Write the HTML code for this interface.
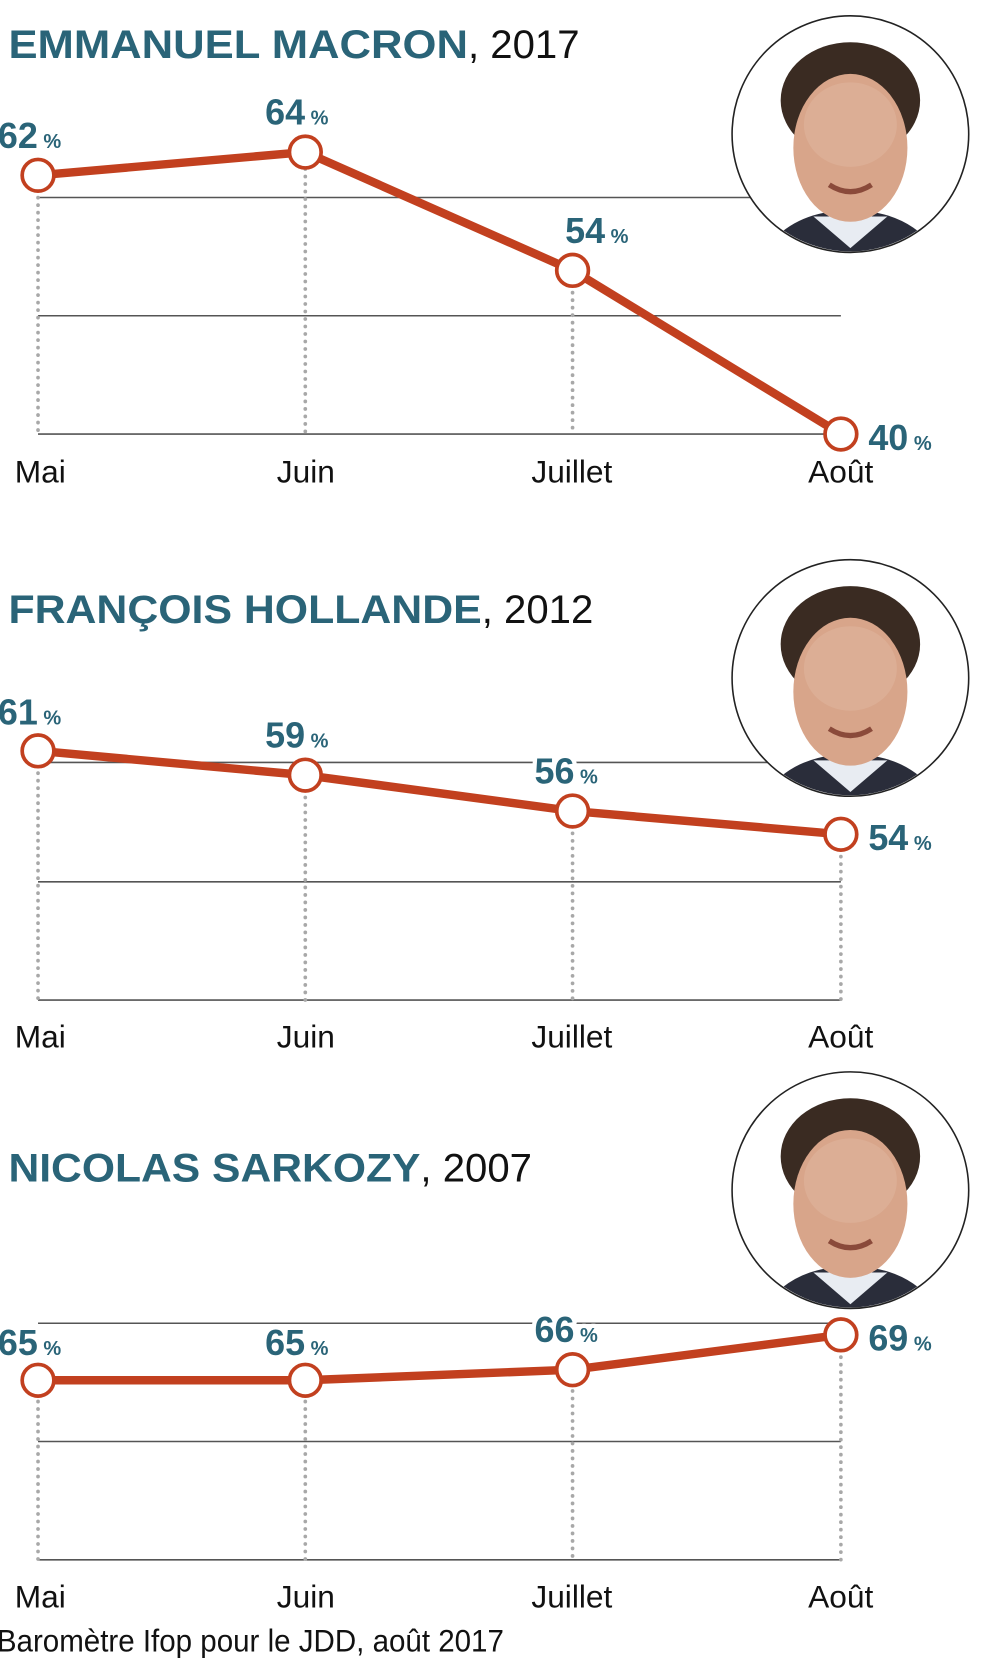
<!DOCTYPE html>
<html><head><meta charset="utf-8"><style>
html,body{margin:0;padding:0;background:#fff;}
svg{display:block;}
.t{font-family:"Liberation Sans",sans-serif;font-weight:bold;fill:#2a6478;}
.y{font-family:"Liberation Sans",sans-serif;font-weight:normal;fill:#111;}
.m{font-family:"Liberation Sans",sans-serif;font-size:30px;fill:#111;}
.v{font-family:"Liberation Sans",sans-serif;font-weight:bold;font-size:34px;fill:#2a6478;paint-order:stroke;stroke:#fff;stroke-width:8px;stroke-linejoin:round;}
.p{font-size:19px;}
.g{stroke:#555;stroke-width:1.5;}
.d{stroke:#a8a8a8;stroke-width:3.5;stroke-dasharray:0.1 7;stroke-linecap:round;}
.l{fill:none;stroke:#c2401f;stroke-width:8;stroke-linejoin:round;}
.c{fill:#fff;stroke:#c2401f;stroke-width:3.5;}
</style></head><body>
<svg width="993" height="1658" viewBox="0 0 940 1570" preserveAspectRatio="none" xmlns="http://www.w3.org/2000/svg">
<defs>
<clipPath id="cp"><circle cx="805" cy="127" r="111"/></clipPath>
<g id="face">
<circle cx="805" cy="127" r="112" fill="#fff"/>
<g clip-path="url(#cp)">
<path d="M715 250 Q740 205 790 200 L820 200 Q870 205 895 250 Z" fill="#2a2d3a"/>
<path d="M770 205 L805 235 L840 205 Z" fill="#e8ecf2"/>
<ellipse cx="805" cy="95" rx="66" ry="55" fill="#3a2b22"/>
<ellipse cx="805" cy="140" rx="54" ry="70" fill="#d8a58a"/>
<ellipse cx="805" cy="118" rx="44" ry="40" fill="#dcae95"/>
<path d="M785 175 Q805 188 825 175" stroke="#8a4a3a" stroke-width="5" fill="none"/>
</g>
<circle cx="805" cy="127" r="112" fill="none" stroke="#222" stroke-width="1.5"/>
</g>
</defs>

<!-- MACRON -->
<text x="8" y="55" font-size="38"><tspan class="t" textLength="435" lengthAdjust="spacingAndGlyphs">EMMANUEL MACRON</tspan><tspan class="y">, 2017</tspan></text>
<line class="g" x1="36" y1="187" x2="796" y2="187"/>
<line class="g" x1="36" y1="299" x2="796" y2="299"/>
<line class="g" x1="36" y1="411" x2="796" y2="411"/>
<line class="d" x1="36" y1="180" x2="36" y2="411"/>
<line class="d" x1="289" y1="160" x2="289" y2="411"/>
<line class="d" x1="542" y1="270" x2="542" y2="411"/>
<use href="#face"/>
<polyline class="l" points="36,166 289,144 542,256 796,411"/>
<circle class="c" cx="36" cy="166" r="15"/><circle class="c" cx="289" cy="144" r="15"/><circle class="c" cx="542" cy="256" r="15"/><circle class="c" cx="796" cy="411" r="15"/>
<text class="v" x="-2" y="140">62<tspan class="p"> %</tspan></text>
<text class="v" x="251" y="118">64<tspan class="p"> %</tspan></text>
<text class="v" x="535" y="230">54<tspan class="p"> %</tspan></text>
<text class="v" x="822" y="426">40<tspan class="p"> %</tspan></text>
<text class="m" x="14" y="457">Mai</text><text class="m" x="262" y="457">Juin</text><text class="m" x="503" y="457">Juillet</text><text class="m" x="765" y="457">Août</text>

<!-- HOLLANDE -->
<text x="8" y="590" font-size="38"><tspan class="t" textLength="448" lengthAdjust="spacingAndGlyphs">FRANÇOIS HOLLANDE</tspan><tspan class="y">, 2012</tspan></text>
<line class="g" x1="36" y1="722" x2="796" y2="722"/>
<line class="g" x1="36" y1="835" x2="796" y2="835"/>
<line class="g" x1="36" y1="947" x2="796" y2="947"/>
<line class="d" x1="36" y1="725" x2="36" y2="947"/>
<line class="d" x1="289" y1="748" x2="289" y2="947"/>
<line class="d" x1="542" y1="782" x2="542" y2="947"/>
<line class="d" x1="796" y1="804" x2="796" y2="947"/>
<use href="#face" transform="translate(0,515)"/>
<polyline class="l" points="36,711 289,734 542,768 796,790"/>
<circle class="c" cx="36" cy="711" r="15"/><circle class="c" cx="289" cy="734" r="15"/><circle class="c" cx="542" cy="768" r="15"/><circle class="c" cx="796" cy="790" r="15"/>
<text class="v" x="-2" y="686">61<tspan class="p"> %</tspan></text>
<text class="v" x="251" y="708">59<tspan class="p"> %</tspan></text>
<text class="v" x="506" y="742">56<tspan class="p"> %</tspan></text>
<text class="v" x="822" y="805">54<tspan class="p"> %</tspan></text>
<text class="m" x="14" y="992">Mai</text><text class="m" x="262" y="992">Juin</text><text class="m" x="503" y="992">Juillet</text><text class="m" x="765" y="992">Août</text>

<!-- SARKOZY -->
<text x="8" y="1119" font-size="38"><tspan class="t" textLength="390" lengthAdjust="spacingAndGlyphs">NICOLAS SARKOZY</tspan><tspan class="y">, 2007</tspan></text>
<use href="#face" transform="translate(0,1000)"/>
<line class="g" x1="36" y1="1253" x2="796" y2="1253"/>
<line class="g" x1="36" y1="1365" x2="796" y2="1365"/>
<line class="g" x1="36" y1="1477" x2="796" y2="1477"/>
<line class="d" x1="36" y1="1320" x2="36" y2="1477"/>
<line class="d" x1="289" y1="1320" x2="289" y2="1477"/>
<line class="d" x1="542" y1="1310" x2="542" y2="1477"/>
<line class="d" x1="796" y1="1278" x2="796" y2="1477"/>
<polyline class="l" points="36,1307 289,1307 542,1297 796,1264"/>
<circle class="c" cx="36" cy="1307" r="15"/><circle class="c" cx="289" cy="1307" r="15"/><circle class="c" cx="542" cy="1297" r="15"/><circle class="c" cx="796" cy="1264" r="15"/>
<text class="v" x="-2" y="1283">65<tspan class="p"> %</tspan></text>
<text class="v" x="251" y="1283">65<tspan class="p"> %</tspan></text>
<text class="v" x="506" y="1271">66<tspan class="p"> %</tspan></text>
<text class="v" x="822" y="1279">69<tspan class="p"> %</tspan></text>
<text class="m" x="14" y="1522">Mai</text><text class="m" x="262" y="1522">Juin</text><text class="m" x="503" y="1522">Juillet</text><text class="m" x="765" y="1522">Août</text>

<text class="m" x="-3" y="1564" font-size="27" textLength="480" lengthAdjust="spacingAndGlyphs">Baromètre Ifop pour le JDD, août 2017</text>
</svg>
</body></html>
